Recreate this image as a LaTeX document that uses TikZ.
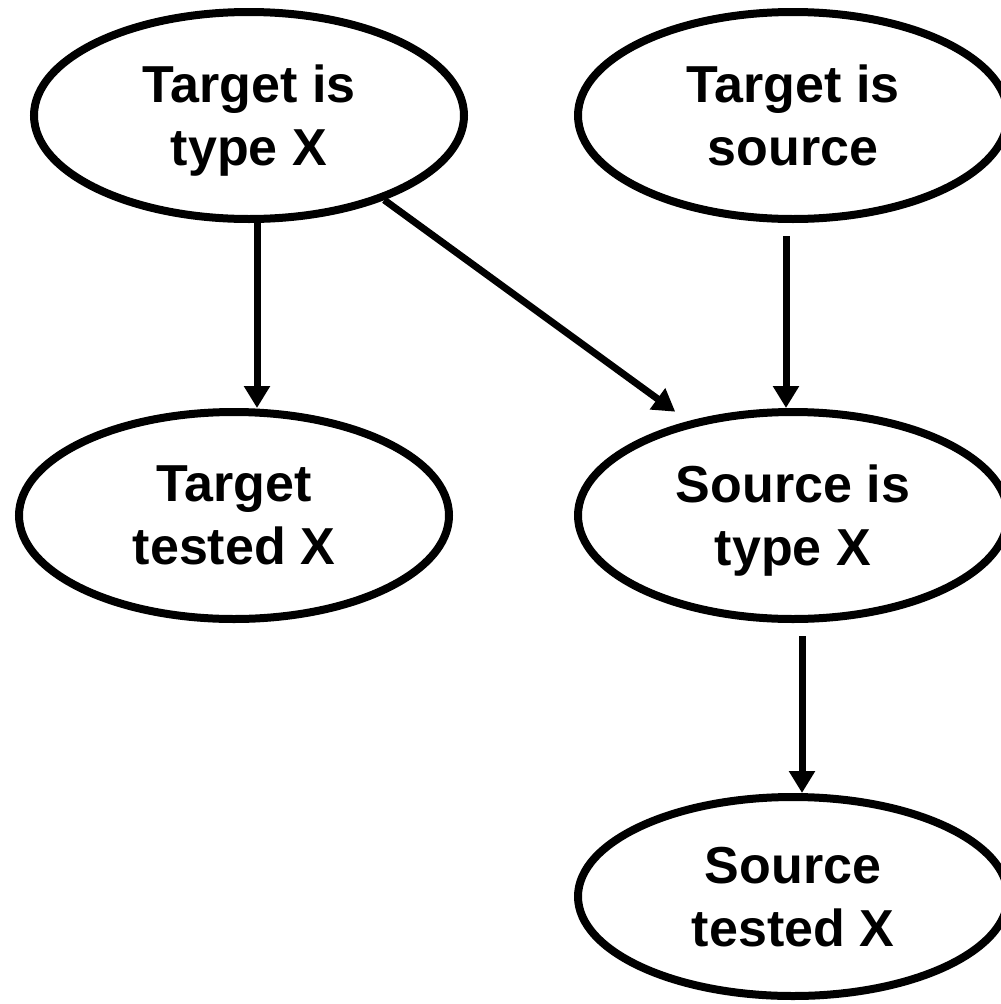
\documentclass[tikz,border=0pt]{standalone}
\usepackage{fontspec}
\setmainfont{Liberation Sans}
\usetikzlibrary{shapes.geometric,arrows.meta}
\begin{document}
\begin{tikzpicture}[x=1pt,y=-1pt,
  oval/.style={ellipse, draw, line width=8pt, minimum width=430pt, minimum height=207pt,
    inner sep=0pt, align=center, font=\fontsize{52}{63}\selectfont\bfseries,
    text depth=0pt},
  arr/.style={line width=7pt, -{Triangle[length=22pt,width=25pt]}}]
\useasboundingbox[fill=white] (0,0) rectangle (1001,1004);
\node[oval] (t1) at (249,115.5) {Target is\\type X};
\node[oval] (t2) at (793,115.5) {Target is\\source};
\node[oval] (t3) at (234,515.5) {Target\\tested X};
\node[oval] (s4) at (793,515.5) {Source is\\type X};
\node[oval, minimum height=199pt] (s5) at (793,896.5) {Source\\tested X};
\draw[arr] ([xshift=8pt]t1.south) -- ([xshift=23pt]t3.north);
\draw[arr, shorten >=16pt] (t1.-32.6) -- (s4.138.7);
\draw[arr, shorten <=13pt] ([xshift=-7pt]t2.south) -- ([xshift=-7pt]s4.north);
\draw[arr, shorten <=13pt] ([xshift=9pt]s4.south) -- ([xshift=9pt]s5.north);
\end{tikzpicture}
\end{document}
